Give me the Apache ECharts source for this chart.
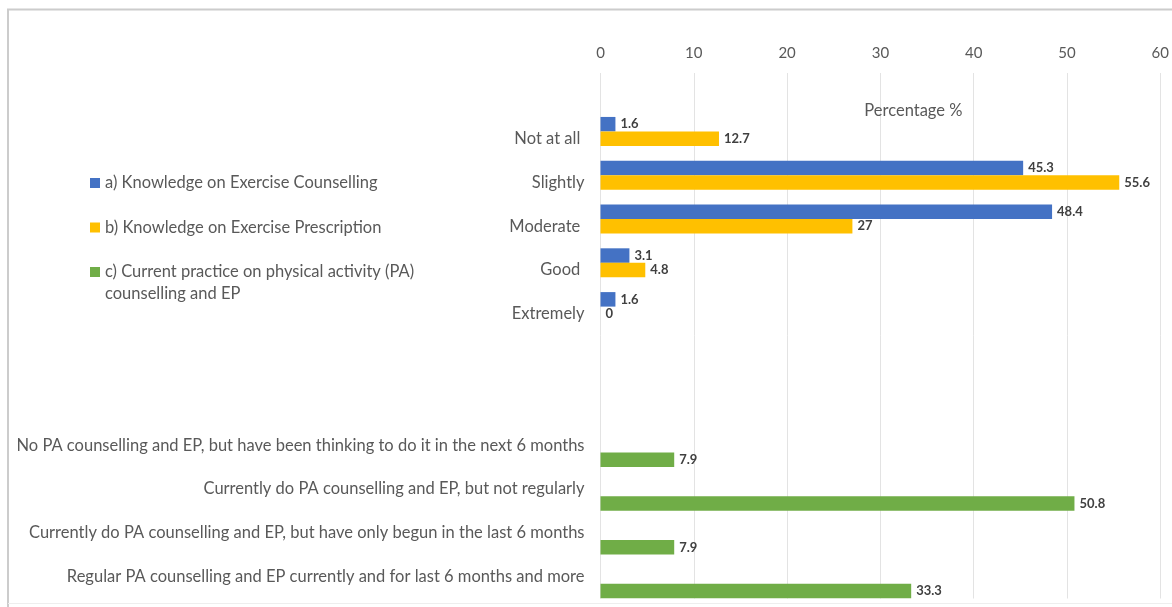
<!DOCTYPE html>
<html>
<head>
<meta charset="utf-8">
<script src="https://cdn.jsdelivr.net/npm/echarts@6/dist/echarts.min.js"></script>
<style>
html, body { margin: 0; padding: 0; background: #ffffff; }
#chart { width: 1172px; height: 607px; }
</style>
</head>
<body>
<div id="chart"></div>
<script>
// ---- data ----
var categories = [
  '',
  'Not at all ',
  'Slightly',
  'Moderate ',
  'Good ',
  'Extremely',
  ' ',
  '  ',
  'No PA counselling and EP, but have been thinking to do it in the next 6 months',
  'Currently do PA counselling and EP, but not regularly',
  'Currently do PA counselling and EP, but have only begun in the last 6 months',
  'Regular PA counselling and EP currently and for last 6 months and more'
];
var seriesNames = [
  'a) Knowledge on Exercise Counselling',
  'b) Knowledge on Exercise Prescription',
  'c) Current practice on physical activity (PA) counselling and EP'
];
var counsellingValues  = [null, 1.6, 45.3, 48.4, 3.1, 1.6, null, null, null, null, null, null];
var prescriptionValues = [null, 12.7, 55.6, 27, 4.8, 0, null, null, null, null, null, null];
var practiceValues     = [null, null, null, null, null, null, null, null, 7.9, 50.8, 7.9, 33.3];
var xTicks = [0, 10, 20, 30, 40, 50, 60];
var axisName = 'Percentage %';

var colors = ['#4472C4', '#FFC000', '#70AD47'];
var FONT = 'Lato';
var TXT = '#595959';

var chart = echarts.init(document.getElementById('chart'), null, { renderer: 'canvas' });

function barSeries(name, values, color) {
  return {
    name: name,
    type: 'bar',
    data: values,
    barWidth: 14.5,
    barGap: '0%',
    itemStyle: { color: color },
    label: {
      show: true,
      position: 'right',
      distance: 5,
      fontFamily: FONT,
      fontSize: 13,
      fontWeight: 'bold',
      color: '#404040'
    },
    emphasis: { disabled: true },
    animation: false
  };
}

var legendBase = {
  orient: 'vertical',
  left: 90,
  padding: 0,
  itemWidth: 10,
  itemHeight: 10,
  icon: 'rect',
  selectedMode: false
};

var option = {
  backgroundColor: '#ffffff',
  animation: false,
  grid: { left: 600.5, right: 10.5, top: 73, bottom: 8.5, containLabel: false },
  xAxis: {
    type: 'value',
    position: 'top',
    min: xTicks[0],
    max: xTicks[xTicks.length - 1],
    interval: xTicks[1] - xTicks[0],
    name: axisName,
    nameLocation: 'middle',
    nameGap: -46,
    nameTextStyle: { fontFamily: FONT, fontSize: 16.5, color: TXT, padding: [0, 0, 0, 66] },
    axisLine: { show: false },
    axisTick: { show: false },
    axisLabel: { fontFamily: FONT, fontSize: 15, color: TXT, margin: 12 },
    splitLine: { show: true, lineStyle: { color: '#e3e3e3', width: 1 } }
  },
  yAxis: {
    type: 'category',
    inverse: true,
    data: categories,
    axisLine: { show: false },
    axisTick: { show: false },
    axisLabel: { fontFamily: FONT, fontSize: 16.5, color: TXT, margin: 16, interval: 0 },
    splitLine: { show: false }
  },
  legend: [
    Object.assign({}, legendBase, {
      top: 172,
      itemGap: 22.5,
      textStyle: { fontFamily: FONT, fontSize: 16.5, color: TXT, lineHeight: 22 },
      data: [seriesNames[0], seriesNames[1]]
    }),
    Object.assign({}, legendBase, {
      top: 239,
      textStyle: {
        fontFamily: FONT, fontSize: 16.5, color: TXT, lineHeight: 22,
        padding: [22, 0, 0, 0],
        rich: { t: { fontFamily: FONT, fontSize: 16.5, color: TXT, lineHeight: 22 } }
      },
      formatter: function (name) {
        var parts = name.split(' counselling and EP');
        return '{t|' + parts[0] + '}\n{t|counselling and EP}';
      },
      data: [seriesNames[2]]
    })
  ],
  graphic: [
    {
      type: 'polyline',
      z: -10,
      silent: true,
      shape: { points: [[8, 607], [8, 9.5], [1172, 9.5]] },
      style: { stroke: '#cccccc', lineWidth: 2, fill: null }
    },
    {
      type: 'line',
      z: -10,
      silent: true,
      shape: { x1: 8, y1: 603.5, x2: 1172, y2: 603.5 },
      style: { stroke: '#eeeeee', lineWidth: 1 }
    }
  ],
  series: [
    barSeries(seriesNames[0], counsellingValues, colors[0]),
    barSeries(seriesNames[1], prescriptionValues, colors[1]),
    barSeries(seriesNames[2], practiceValues, colors[2])
  ]
};

chart.setOption(option);
</script>
</body>
</html>
